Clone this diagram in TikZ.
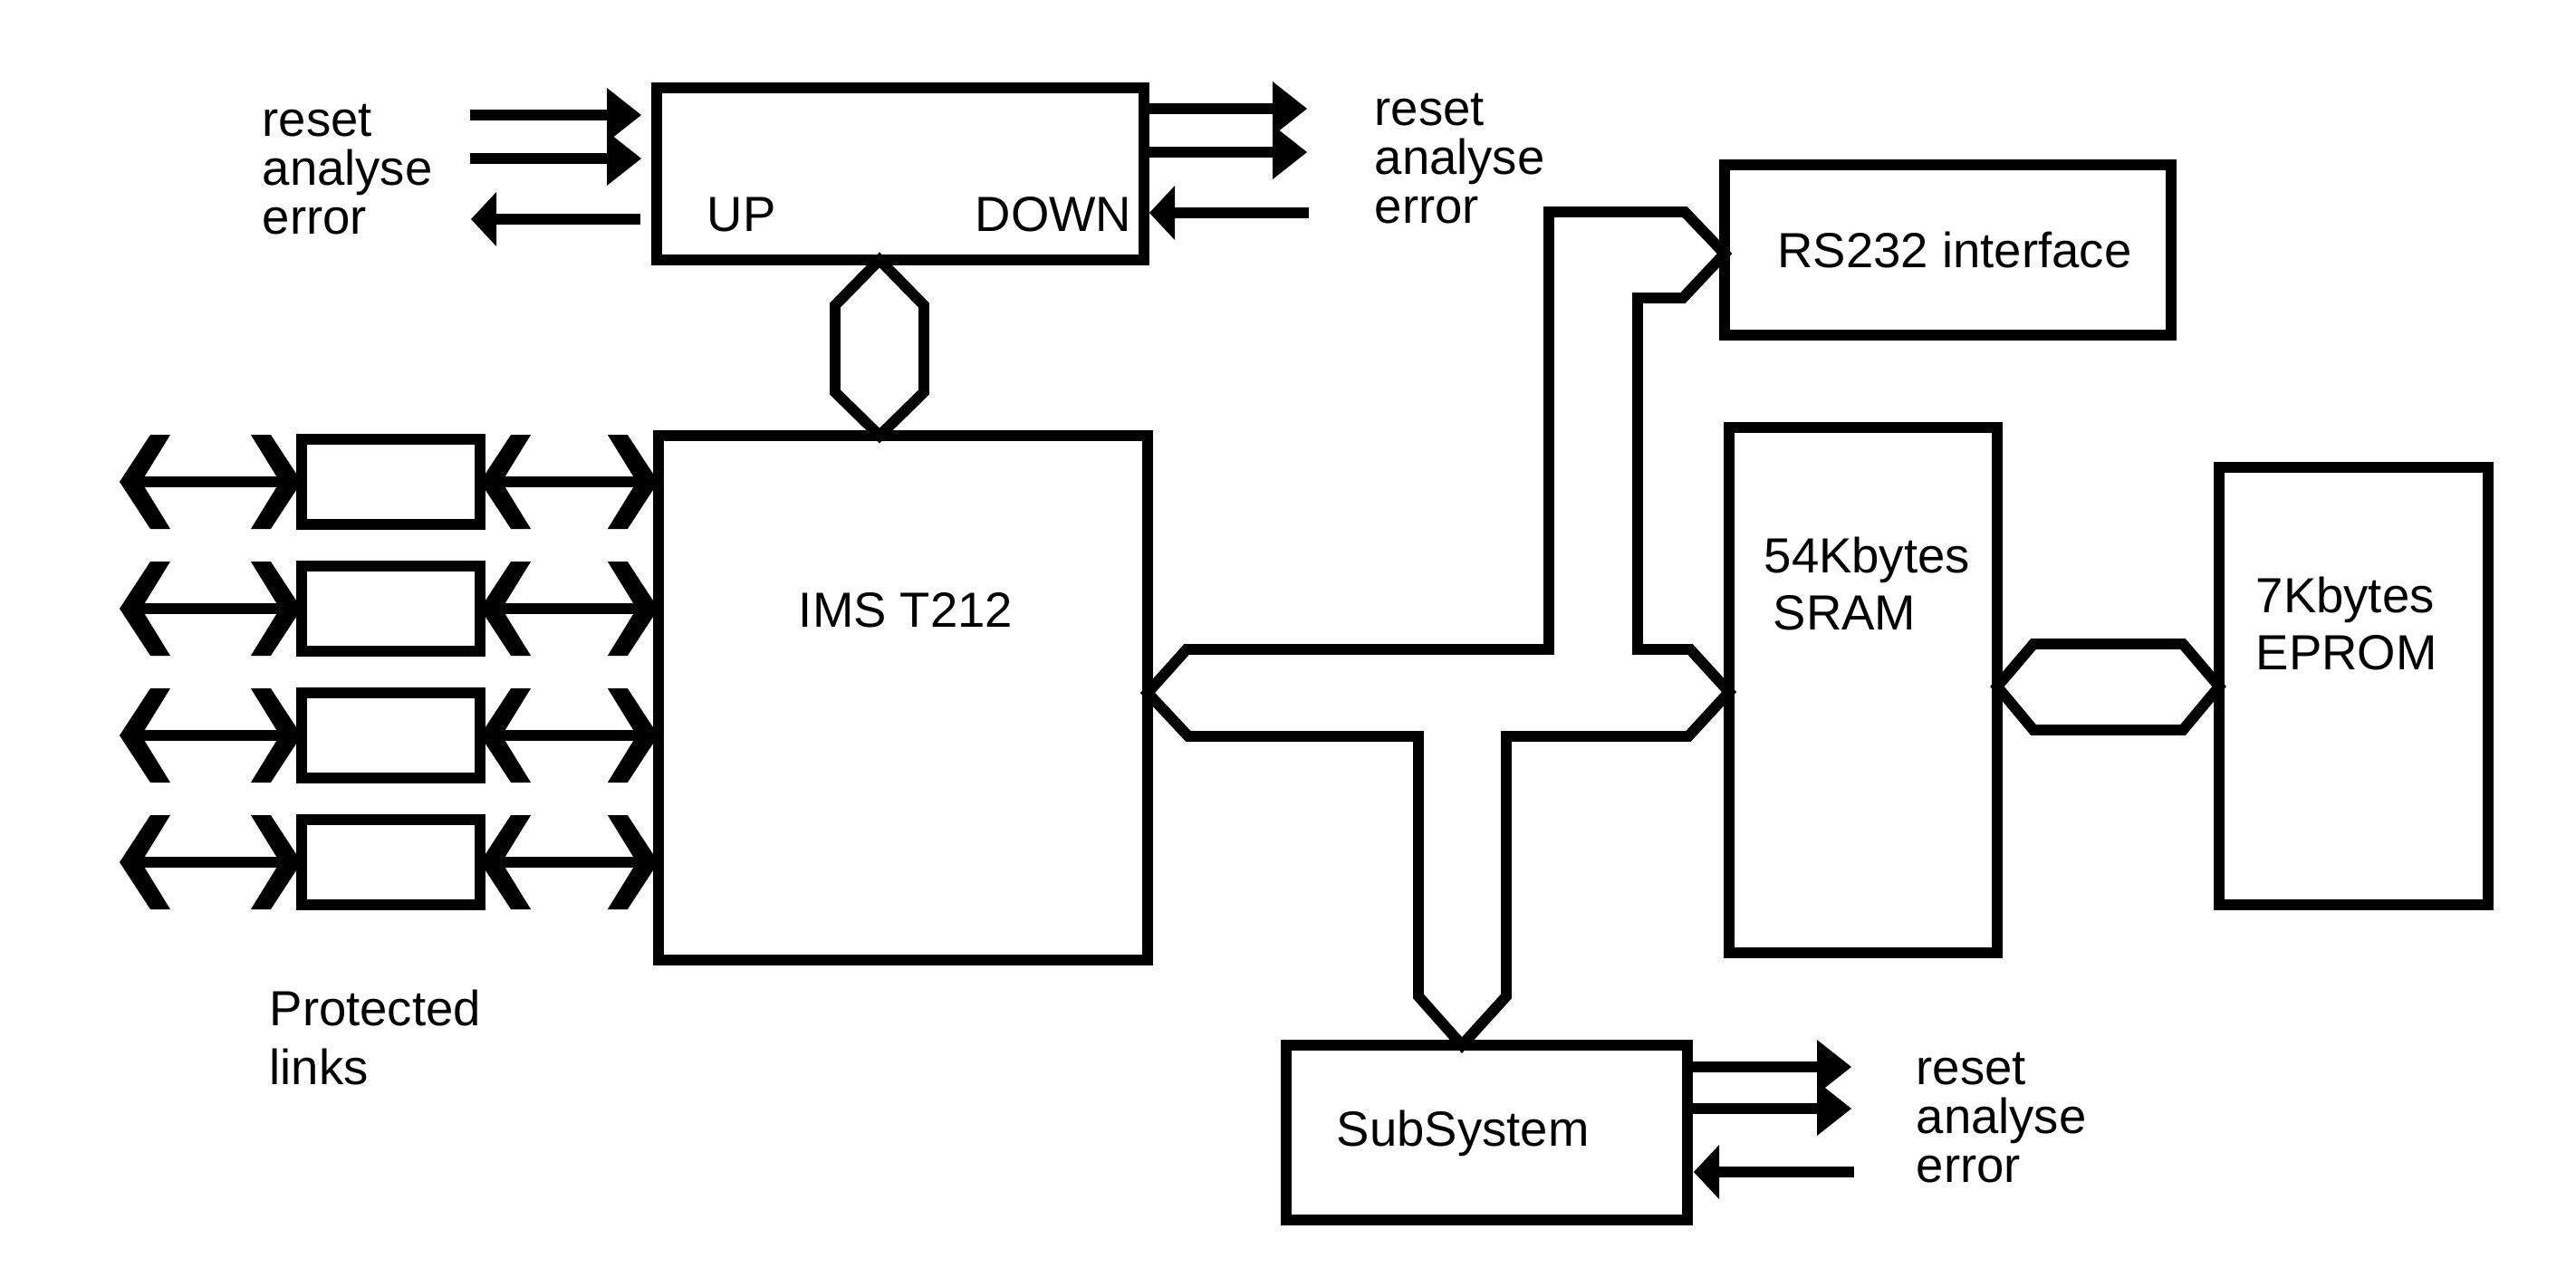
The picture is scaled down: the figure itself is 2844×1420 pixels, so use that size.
\documentclass[tikz,border=0pt]{standalone}
\usepackage{fontspec}
\setmainfont{Liberation Sans}
\usetikzlibrary{calc}
\begin{document}
\begin{tikzpicture}[x=0.01cm, y=-0.01cm, line join=miter,
  box/.style={draw, line width=3.4pt, rectangle, inner sep=0pt, outer sep=0pt},
  lbl/.style={anchor=base west, inner sep=0pt, font=\fontsize{15.5}{18}\selectfont},
  clbl/.style={anchor=base, inner sep=0pt, font=\fontsize{15.5}{18}\selectfont},
  bus/.style={draw, line width=3.4pt, line join=miter},
  sig/.style={line width=3.5pt},
  shaft/.style={line width=3.6pt},
  chevL/.pic={\fill (0,0) -- (34,-52) -- (56,-52) -- (24,0) -- (56,52) -- (34,52) -- cycle;},
  chevR/.pic={\fill (0,0) -- (-34,-52) -- (-56,-52) -- (-24,0) -- (-56,52) -- (-34,52) -- cycle;},
  headR/.pic={\fill (0,0) -- (-38,-30) -- (-38,30) -- cycle;},
  headL/.pic={\fill (0,0) -- (28,-30) -- (28,30) -- cycle;},
]
\useasboundingbox (0,0) rectangle (2844,1420);

% ---------- boxes ----------
\node[box, minimum width=5.38cm, minimum height=1.90cm] (ctrl) at (994,192) {};
\node[box, minimum width=5.40cm, minimum height=5.79cm] (ims) at (997,770.5) {};
\node[box, minimum width=4.93cm, minimum height=1.88cm] (rs) at (2150.5,276) {};
\node[box, minimum width=2.96cm, minimum height=5.80cm] (sram) at (2057,762) {};
\node[box, minimum width=2.97cm, minimum height=4.83cm] (eprom) at (2598.5,757.5) {};
\node[box, minimum width=4.43cm, minimum height=1.93cm] (sub) at (1641.5,1250.5) {};
\foreach \i/\y in {1/532,2/672,3/812,4/952}{
  \node[box, minimum width=1.97cm, minimum height=0.94cm] (lk\i) at (431.5,\y) {};
}

% ---------- texts ----------
\node[lbl] (tup) at (780,255) {UP};
\node[lbl] (tdown) at (1076,255) {DOWN};
\node[clbl] (tims) at (1000,692) {IMS T212};
\node[clbl] (trs) at (2158,295) {RS232 interface};
\node[lbl] (tsub) at (1475,1265) {SubSystem};
\node[lbl] (tsram1) at (1947,632) {54Kbytes};
\node[lbl] (tsram2) at (1957,695) {SRAM};
\node[lbl] (tep1) at (2490,676) {7Kbytes};
\node[lbl] (tep2) at (2490,739) {EPROM};
\node[lbl] (tpl1) at (297,1132) {Protected};
\node[lbl] (tpl2) at (297,1197) {links};

\node[lbl] (lr1) at (289,150) {reset};
\node[lbl] (la1) at (289,204) {analyse};
\node[lbl] (le1) at (289,258) {error};
\node[lbl] (lr2) at (1517,138) {reset};
\node[lbl] (la2) at (1517,192) {analyse};
\node[lbl] (le2) at (1517,246) {error};
\node[lbl] (lr3) at (2115,1197) {reset};
\node[lbl] (la3) at (2115,1251) {analyse};
\node[lbl] (le3) at (2115,1305) {error};

% ---------- protected links ----------
\foreach \i/\y in {1/532,2/672,3/812,4/952}{
  \coordinate (lend\i) at (132,\y);
  \coordinate (imsin\i) at (ims.west |- lk\i.center);
  \draw[shaft] ($(lend\i)+(12,0)$) -- ($(lk\i.west)+(-14,0)$);
  \draw[shaft] ($(lk\i.east)+(14,0)$) -- ($(imsin\i)+(-14,0)$);
  \pic at (lend\i) {chevL};
  \pic at (lk\i.west) {chevR};
  \pic at (lk\i.east) {chevL};
  \pic at (imsin\i) {chevR};
}

% ---------- control signals (UP side) ----------
\coordinate (ur0) at (519,127);  \coordinate (ur1) at (708,127);
\coordinate (ua0) at (519,175);  \coordinate (ua1) at (708,175);
\coordinate (ue0) at (707,242);  \coordinate (ue1) at (520,242);
\draw[sig] (ur0) -- ($(ur1)+(-20,0)$);
\draw[sig] (ua0) -- ($(ua1)+(-20,0)$);
\draw[sig] (ue0) -- ($(ue1)+(16,0)$);
\pic at (ur1) {headR};
\pic at (ua1) {headR};
\pic at (ue1) {headL};

% ---------- control signals (DOWN side) ----------
\coordinate (dr0) at (ctrl.east |- 0,120); \coordinate (dr1) at (1443,120);
\coordinate (da0) at (ctrl.east |- 0,168); \coordinate (da1) at (1443,168);
\coordinate (de0) at (1445,235); \coordinate (de1) at (1269,235);
\draw[sig] (dr0) -- ($(dr1)+(-20,0)$);
\draw[sig] (da0) -- ($(da1)+(-20,0)$);
\draw[sig] (de0) -- ($(de1)+(16,0)$);
\pic at (dr1) {headR};
\pic at (da1) {headR};
\pic at (de1) {headL};

% ---------- SubSystem signals ----------
\coordinate (sr0) at (sub.east |- 0,1178); \coordinate (sr1) at (2044,1178);
\coordinate (sa0) at (sub.east |- 0,1224); \coordinate (sa1) at (2044,1224);
\coordinate (se0) at (2047,1294); \coordinate (se1) at (1870,1294);
\draw[sig] (sr0) -- ($(sr1)+(-20,0)$);
\draw[sig] (sa0) -- ($(sa1)+(-20,0)$);
\draw[sig] (se0) -- ($(se1)+(16,0)$);
\pic at (sr1) {headR};
\pic at (sa1) {headR};
\pic at (se1) {headL};

% ---------- buses ----------
% control box <-> IMS
\coordinate (h1t) at (971,287);
\coordinate (h1b) at (971,481);
\draw[bus] (h1t) -- (1020,337) -- (1020,433) -- (h1b) -- (922,433) -- (922,337) -- cycle;

% main bus: IMS <-> SRAM, RS232, SubSystem
\coordinate (tipIMS) at (1267,765);
\coordinate (tipRS) at (1904,280);
\coordinate (tipSRAM) at (1909,764);
\coordinate (tipSUB) at (1614,1154);
\draw[bus] (tipIMS) -- (1310,717) -- (1710,717) -- (1710,234) -- (1860,234)
  -- (tipRS) -- (1858,329) -- (1808,329) -- (1808,717) -- (1866,717)
  -- (tipSRAM) -- (1864,813) -- (1663,813) -- (1663,1100) -- (tipSUB)
  -- (1566,1100) -- (1566,813) -- (1312,813) -- cycle;

% SRAM <-> EPROM
\coordinate (h2l) at (2205,758);
\coordinate (h2r) at (2450,758);
\draw[bus] (h2l) -- (2245,711) -- (2410,711) -- (h2r) -- (2410,806) -- (2245,806) -- cycle;

\end{tikzpicture}
\end{document}
